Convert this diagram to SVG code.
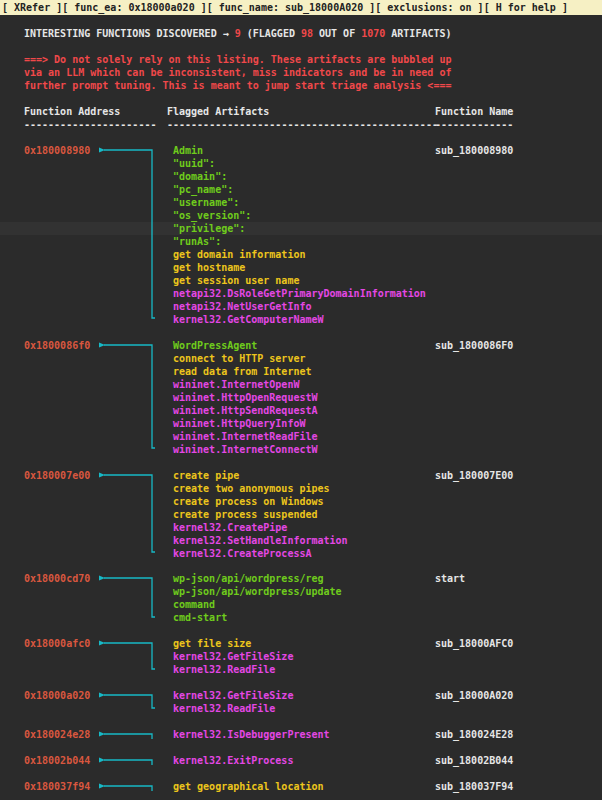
<svg xmlns="http://www.w3.org/2000/svg" width="602" height="800" viewBox="0 0 602 800">
<style>
text{font-family:"DejaVu Sans Mono","Liberation Mono",monospace;font-size:10px;font-weight:bold;white-space:pre}
.w{fill:#e6e6e6}.r{fill:#f0484a}.a{fill:#d9573f}.g{fill:#6fcc1c}.y{fill:#edc51c}.m{fill:#e447e4}.n{fill:#e6e6e6}
.c{fill:none;stroke:#17b9c6;stroke-width:1.3}
</style>
<defs><marker id="ah" markerWidth="6" markerHeight="6" refX="1" refY="3" orient="auto" markerUnits="userSpaceOnUse"><path d="M6,0.5 L0,3 L6,5.5 Z" fill="#17b9c6"/></marker></defs>
<rect width="602" height="800" fill="#2b2b2b"/>
<rect x="0" y="222" width="602" height="13" fill="#323232"/>
<rect x="0" y="0" width="602" height="15" fill="#f6f0c4"/>
<text x="2" y="11" fill="#222">[ XRefer ][ func_ea: 0x18000a020 ][ func_name: sub_18000A020 ][ exclusions: on ][ H for help ]</text>
<text x="24" y="37" class="w">INTERESTING FUNCTIONS DISCOVERED → <tspan class="r">9</tspan> (FLAGGED <tspan class="r">98</tspan> OUT OF <tspan class="r">1070</tspan> ARTIFACTS)</text>
<text x="24" y="63" class="r">===&gt; Do not solely rely on this listing. These artifacts are bubbled up</text>
<text x="24" y="76" class="r">via an LLM which can be inconsistent, miss indicators and be in need of</text>
<text x="24" y="89" class="r">further prompt tuning. This is meant to jump start triage analysis &lt;===</text>
<text x="24" y="115" class="w">Function Address</text><text x="167" y="115" class="w">Flagged Artifacts</text><text x="435" y="115" class="w">Function Name</text>
<text x="24" y="128" class="w">----------------------</text><text x="167" y="128" class="w">---------------------------------------------</text><text x="435" y="128" class="w">-------------</text>
<g id="connectors">
<path class="c" marker-end="url(#ah)" d="M155,318 H152 V150 H104"/>
<path class="c" marker-end="url(#ah)" d="M155,448 H152 V345 H104"/>
<path class="c" marker-end="url(#ah)" d="M155,552 H152 V475 H104"/>
<path class="c" marker-end="url(#ah)" d="M155,617 H152 V578 H104"/>
<path class="c" marker-end="url(#ah)" d="M155,669 H152 V643 H104"/>
<path class="c" marker-end="url(#ah)" d="M155,708 H152 V695 H104"/>
<path class="c" marker-end="url(#ah)" d="M152,739 V734 H104"/>
<path class="c" marker-end="url(#ah)" d="M152,765 V760 H104"/>
<path class="c" marker-end="url(#ah)" d="M152,791 V786 H104"/>
</g>
<g id="f1">
<text x="24" y="154" class="a">0x180008980</text><text x="435" y="154" class="n">sub_180008980</text>
<text x="173" y="154" class="g">Admin</text>
<text x="173" y="167" class="g">"uuid":</text>
<text x="173" y="180" class="g">"domain":</text>
<text x="173" y="193" class="g">"pc_name":</text>
<text x="173" y="206" class="g">"username":</text>
<text x="173" y="219" class="g">"os_version":</text>
<text x="173" y="232" class="g">"privilege":</text>
<text x="173" y="245" class="g">"runAs":</text>
<text x="173" y="258" class="y">get domain information</text>
<text x="173" y="271" class="y">get hostname</text>
<text x="173" y="284" class="y">get session user name</text>
<text x="173" y="297" class="m">netapi32.DsRoleGetPrimaryDomainInformation</text>
<text x="173" y="310" class="m">netapi32.NetUserGetInfo</text>
<text x="173" y="323" class="m">kernel32.GetComputerNameW</text>
</g>
<g id="f2">
<text x="24" y="349" class="a">0x1800086f0</text><text x="435" y="349" class="n">sub_1800086F0</text>
<text x="173" y="349" class="g">WordPressAgent</text>
<text x="173" y="362" class="y">connect to HTTP server</text>
<text x="173" y="375" class="y">read data from Internet</text>
<text x="173" y="388" class="m">wininet.InternetOpenW</text>
<text x="173" y="401" class="m">wininet.HttpOpenRequestW</text>
<text x="173" y="414" class="m">wininet.HttpSendRequestA</text>
<text x="173" y="427" class="m">wininet.HttpQueryInfoW</text>
<text x="173" y="440" class="m">wininet.InternetReadFile</text>
<text x="173" y="453" class="m">wininet.InternetConnectW</text>
</g>
<g id="f3">
<text x="24" y="479" class="a">0x180007e00</text><text x="435" y="479" class="n">sub_180007E00</text>
<text x="173" y="479" class="y">create pipe</text>
<text x="173" y="492" class="y">create two anonymous pipes</text>
<text x="173" y="505" class="y">create process on Windows</text>
<text x="173" y="518" class="y">create process suspended</text>
<text x="173" y="531" class="m">kernel32.CreatePipe</text>
<text x="173" y="544" class="m">kernel32.SetHandleInformation</text>
<text x="173" y="557" class="m">kernel32.CreateProcessA</text>
</g>
<g id="f4">
<text x="24" y="582" class="a">0x18000cd70</text><text x="435" y="582" class="n">start</text>
<text x="173" y="582" class="g">wp-json/api/wordpress/reg</text>
<text x="173" y="595" class="g">wp-json/api/wordpress/update</text>
<text x="173" y="608" class="g">command</text>
<text x="173" y="621" class="g">cmd-start</text>
</g>
<g id="f5">
<text x="24" y="647" class="a">0x18000afc0</text><text x="435" y="647" class="n">sub_18000AFC0</text>
<text x="173" y="647" class="y">get file size</text>
<text x="173" y="660" class="m">kernel32.GetFileSize</text>
<text x="173" y="673" class="m">kernel32.ReadFile</text>
</g>
<g id="f6">
<text x="24" y="699" class="a">0x18000a020</text><text x="435" y="699" class="n">sub_18000A020</text>
<text x="173" y="699" class="m">kernel32.GetFileSize</text>
<text x="173" y="712" class="m">kernel32.ReadFile</text>
</g>
<g id="f7">
<text x="24" y="738" class="a">0x180024e28</text><text x="435" y="738" class="n">sub_180024E28</text>
<text x="173" y="738" class="m">kernel32.IsDebuggerPresent</text>
</g>
<g id="f8">
<text x="24" y="764" class="a">0x18002b044</text><text x="435" y="764" class="n">sub_18002B044</text>
<text x="173" y="764" class="m">kernel32.ExitProcess</text>
</g>
<g id="f9">
<text x="24" y="790" class="a">0x180037f94</text><text x="435" y="790" class="n">sub_180037F94</text>
<text x="173" y="790" class="y">get geographical location</text>
</g>
</svg>
